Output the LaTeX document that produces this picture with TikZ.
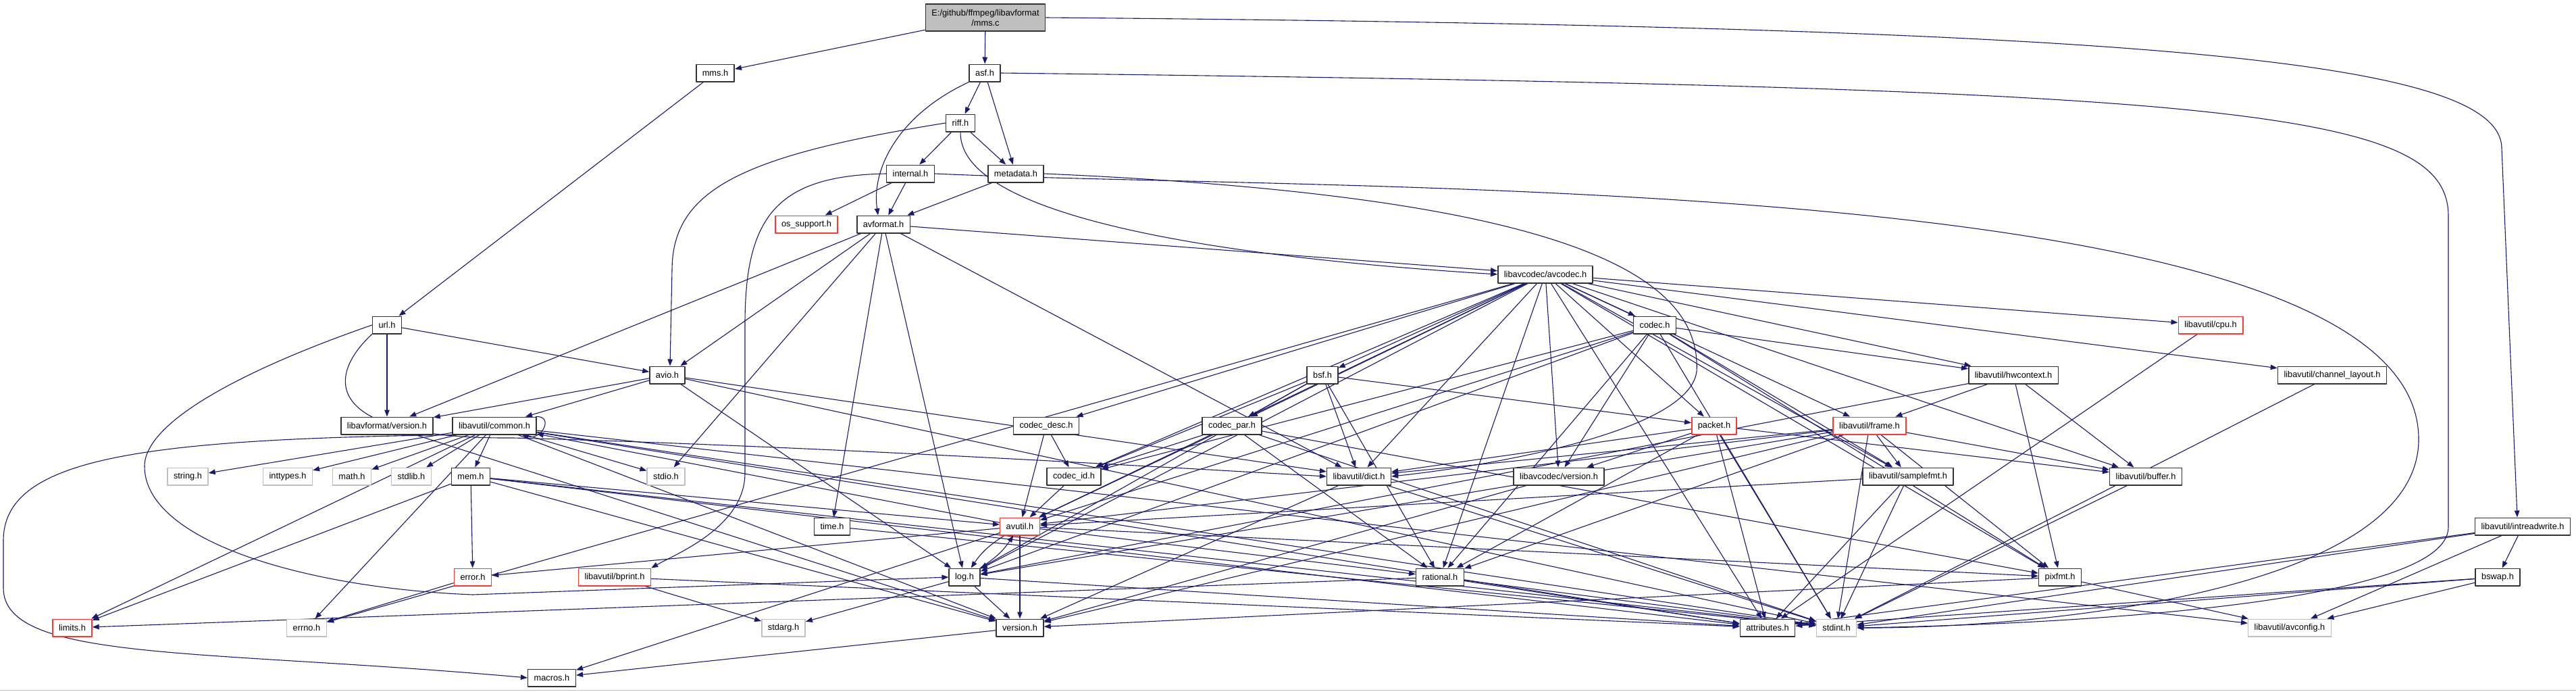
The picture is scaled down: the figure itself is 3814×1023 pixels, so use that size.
\documentclass[tikz,border=0pt]{standalone}
\usepackage{fontspec}
\setmainfont{Liberation Sans}
\usetikzlibrary{arrows.meta,backgrounds}
\definecolor{edgeblue}{RGB}{25,25,112}
\definecolor{sysgray}{RGB}{191,191,191}
\definecolor{cutred}{RGB}{250,56,56}
\definecolor{docline}{RGB}{50,50,50}
\tikzset{
  every picture/.style={line cap=round, line join=round,
    >={Triangle[length=10pt,width=7.5pt]}},
  every node/.style={font=\fontsize{12.8}{15}\selectfont},
  % Dateikästen
  hdr/.style={rectangle, draw=#1, fill=white, line width=1.5pt,
    inner xsep=9pt, inner ysep=0pt, minimum height=25.5pt},
  hdr/.default=docline,
  doc/.style={hdr},
  sys/.style={hdr=sysgray},
  trunc/.style={hdr=cutred},
  rootbox/.style={hdr, fill=sysgray, align=center, minimum height=40pt},
  % Abhängigkeiten
  dep/.style={edgeblue, line width=1.1pt, ->},
}

\begin{document}
\begin{tikzpicture}[x=1pt, y=1pt]
  \useasboundingbox (0,0) rectangle (3814,-1023);
  \draw[sysgray, line width=1.5pt] (0,-1021.5) -- (3814,-1021.5);
  % Ebenen von oben nach unten
  \node[rootbox] (root) at (1459,-26) {E:/github/ffmpeg/libavformat\\/mms.c};
  \node[doc] (mms) at (1059,-108) {mms.h};
  \node[doc] (asf) at (1458,-108) {asf.h};
  \node[doc] (riff) at (1422,-182) {riff.h};
  \node[doc] (intl) at (1348,-257) {internal.h};
  \node[doc] (meta) at (1504,-257) {metadata.h};
  \node[trunc] (osup) at (1194,-332) {os\_support.h};
  \node[doc] (avf) at (1308,-332) {avformat.h};
  \node[doc] (avcodec) at (2288,-406) {libavcodec/avcodec.h};
  \node[doc] (url) at (573,-481) {url.h};
  \node[doc] (codec) at (2450,-481) {codec.h};
  \node[trunc] (cpu) at (3273,-481) {libavutil/cpu.h};
  \node[doc] (avio) at (988,-555) {avio.h};
  \node[doc] (bsf) at (1958,-555) {bsf.h};
  \node[doc] (hwctx) at (2981,-555) {libavutil/hwcontext.h};
  \node[doc] (chlay) at (3453,-555) {libavutil/channel\_layout.h};
  \node[doc] (lfver) at (573,-630) {libavformat/version.h};
  \node[doc] (common) at (732,-630) {libavutil/common.h};
  \node[doc] (cdesc) at (1549,-630) {codec\_desc.h};
  \node[doc] (cpar) at (1824,-630) {codec\_par.h};
  \node[trunc] (packet) at (2538,-630) {packet.h};
  \node[trunc] (frame) at (2768,-630) {libavutil/frame.h};
  \node[sys] (strh) at (278,-705) {string.h};
  \node[sys] (inth) at (426,-705) {inttypes.h};
  \node[sys] (mathh) at (521,-705) {math.h};
  \node[sys] (stdlibh) at (609,-705) {stdlib.h};
  \node[doc] (mem) at (697,-705) {mem.h};
  \node[sys] (stdioh) at (986,-705) {stdio.h};
  \node[doc] (cid) at (1590,-705) {codec\_id.h};
  \node[doc] (dict) at (2012,-705) {libavutil/dict.h};
  \node[doc] (lcver) at (2308,-705) {libavcodec/version.h};
  \node[doc] (sfmt) at (2825,-705) {libavutil/samplefmt.h};
  \node[doc] (buffer) at (3177,-705) {libavutil/buffer.h};
  \node[doc] (timeh) at (1232,-779) {time.h};
  \node[trunc] (avutil) at (1510,-779) {avutil.h};
  \node[doc] (irw) at (3735,-779) {libavutil/intreadwrite.h};
  \node[trunc] (err) at (700,-854) {error.h};
  \node[trunc] (bprint) at (910,-854) {libavutil/bprint.h};
  \node[doc] (log) at (1428,-854) {log.h};
  \node[doc] (rational) at (2132,-854) {rational.h};
  \node[doc] (pixfmt) at (3050,-854) {pixfmt.h};
  \node[doc] (bswap) at (3698,-854) {bswap.h};
  \node[trunc] (limits) at (107,-929) {limits.h};
  \node[sys] (errno) at (454,-929) {errno.h};
  \node[sys] (stdarg) at (1160,-929) {stdarg.h};
  \node[doc] (version) at (1510,-929) {version.h};
  \node[doc] (attr) at (2617,-929) {attributes.h};
  \node[sys] (stdint) at (2719,-929) {stdint.h};
  \node[sys] (avconfig) at (3390,-929) {libavutil/avconfig.h};
  \node[doc] (macros) at (817,-1003) {macros.h};
  \begin{scope}[on background layer]
    % direkte Includes
    \foreach \a/\b in {root/mms, root/asf, mms/url, asf/riff, asf/meta,
        riff/intl, riff/meta, intl/osup, intl/avf,
        meta/avf, avf/avio, avf/lfver, avf/avcodec, avf/dict, avf/timeh, avf/stdioh, avf/log,
        url/avio, url/lfver,
        avio/lfver, avio/common, avio/dict, avio/log, avio/stdint, lfver/version,
        common/strh, common/inth, common/mathh, common/stdlibh, common/mem, common/stdioh,
        common/limits, common/errno, common/attr, common/version, common/avconfig, common/stdint,
        mem/limits, mem/err, mem/avutil, mem/attr, mem/stdint, mem/version,
        err/errno, bprint/stdarg, bprint/attr, timeh/stdint,
        avutil/common, avutil/err, avutil/rational, avutil/version, avutil/macros, avutil/pixfmt,
        log/attr, log/version, log/stdarg, version/macros}
      \draw[dep] (\a) -- (\b);
    % libavcodec
    \foreach \a/\b in {avcodec/errno, avcodec/sfmt, avcodec/attr, avcodec/avutil, avcodec/buffer,
        avcodec/cpu, avcodec/chlay, avcodec/dict, avcodec/frame, avcodec/hwctx, avcodec/log,
        avcodec/pixfmt, avcodec/rational, avcodec/bsf, avcodec/codec, avcodec/cdesc,
        avcodec/cpar, avcodec/cid, avcodec/packet, avcodec/lcver,
        codec/avutil, codec/hwctx, codec/log, codec/pixfmt, codec/rational, codec/sfmt,
        codec/cid, codec/lcver, codec/stdint,
        bsf/dict, bsf/log, bsf/rational, bsf/cid, bsf/cpar, bsf/packet,
        cpar/stdint, cpar/avutil, cpar/rational, cpar/pixfmt, cpar/cid,
        cdesc/avutil, cdesc/cid, cid/avutil, lcver/version,
        packet/attr, packet/buffer, packet/dict, packet/rational, packet/lcver, packet/stdint}
      \draw[dep] (\a) -- (\b);
    % libavutil
    \foreach \a/\b in {frame/avutil, frame/buffer, frame/dict, frame/rational, frame/sfmt,
        frame/pixfmt, frame/log, frame/version, frame/stdint,
        hwctx/buffer, hwctx/frame, hwctx/log, hwctx/pixfmt,
        sfmt/avutil, sfmt/attr, sfmt/stdint, dict/stdint, dict/version,
        rational/stdint, rational/limits, rational/attr, pixfmt/avconfig, pixfmt/version,
        buffer/stdint, chlay/stdint, cpu/attr,
        irw/stdint, irw/avconfig, irw/attr, irw/bswap,
        bswap/stdint, bswap/avconfig, bswap/attr}
      \draw[dep] (\a) -- (\b);
    % Bögen
    \draw[dep] (asf.south west) .. controls (1330,-170) and (1290,-250) .. ([xshift=-8pt]avf.north);
    \draw[dep] (riff.west) .. controls (1100,-230) and (995,-280) .. (995,-400) -- ([xshift=4pt]avio.north);
    \draw[dep] (riff.south) .. controls (1420,-320) and (1800,-380) .. (avcodec.west);
    \draw[dep] (intl.west) .. controls (1150,-260) and (1103,-320) .. (1103,-480) -- (1103,-700)
      .. controls (1103,-780) and (1000,-820) .. (bprint.north east);
    \draw[dep] (url.south west) .. controls (480,-560) and (480,-650) .. (760,-648)
      .. controls (1200,-660) and (1700,-690) .. (dict.west);
    \draw[dep] (url.west) .. controls (380,-540) and (214,-620) .. (214,-690)
      .. controls (214,-800) and (450,-870) .. (700,-880) -- (log.west);
    % lange Bögen
    \draw[dep] (root.east) .. controls (3200,-40) and (3704,-90) .. (3704,-220) -- ([xshift=-8pt]irw.north);
    \draw[dep] (asf.east) .. controls (3300,-130) and (3625,-160) .. (3625,-320) -- (3625,-780)
      .. controls (3625,-900) and (3000,-925) .. (stdint.east);
    \draw[dep] (intl.east) .. controls (2000,-285) and (3581,-250) .. (3581,-650)
      .. controls (3581,-880) and (3000,-930) .. (stdint.east);
    \draw[dep] (meta.east) .. controls (2300,-290) and (2520,-400) .. (2512,-550)
      .. controls (2500,-640) and (2200,-690) .. (dict.east);
    \draw[dep] (common.south west) .. controls (200,-650) and (5,-680) .. (5,-800) -- (5,-870)
      .. controls (5,-980) and (300,-960) .. (macros.west);
    \draw[dep] ([xshift=-2pt]common.north east) .. controls +(28,2) and +(30,-8) .. ([xshift=-22pt]common.south east);
    \draw[dep] (avutil) to[bend right=12] (log);
    \draw[dep] (log) to[bend right=12] (avutil);
  \end{scope}
\end{tikzpicture}
\end{document}
